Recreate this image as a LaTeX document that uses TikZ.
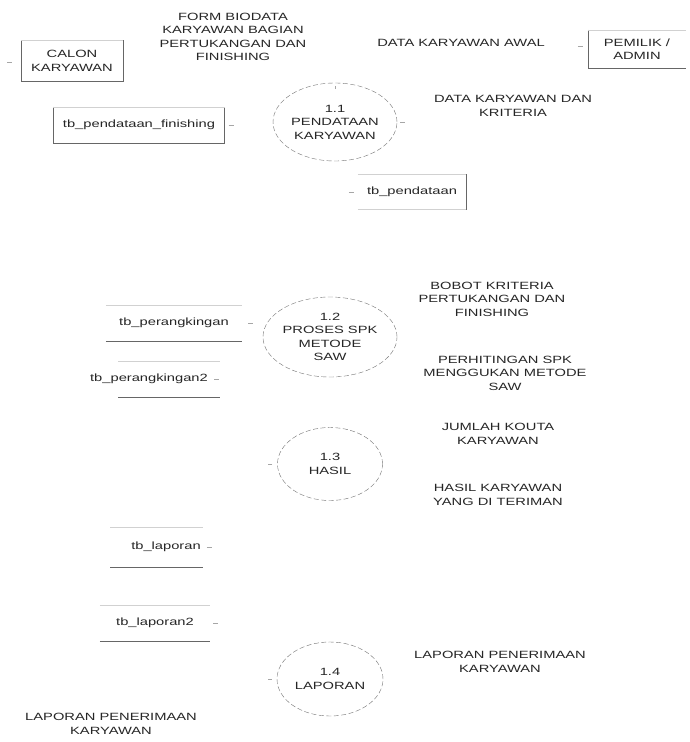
\documentclass[tikz,border=0pt]{standalone}
\usepackage{fontspec}
\setmainfont{Liberation Sans}[FakeStretch=1.4]
\usetikzlibrary{shapes.geometric}
\begin{document}
\begin{tikzpicture}[x=1pt,y=-1pt,font=\fontsize{10.5}{13.5}\selectfont,
  lbl/.style={align=center,text=black!85,inner sep=0pt},
  proc/.style={ellipse,draw=black!55,dash pattern=on 5pt off 2.5pt,align=center,inner sep=0pt,text=black!85},
  ent/.style={align=center,inner sep=0pt,text=black!85},
  edge/.style={draw=black!60,line width=0.6pt},
  faint/.style={draw=black!18,line width=0.6pt},
  tick/.style={draw=black!35,line width=0.6pt}]
\useasboundingbox (0,0) rectangle (690,742);
\fill[white] (0,0) rectangle (690,742);

% external entities
\node[ent,minimum width=102pt,minimum height=41pt] (calon) at (72,61) {CALON\\KARYAWAN};
\draw[edge] (calon.north west) -- (calon.south west) -- (calon.south east) -- (calon.north east);
\draw[faint] (calon.north west) -- (calon.north east);

\node[ent,minimum width=98pt,minimum height=38pt] (admin) at (637,49) {PEMILIK /\\ADMIN};
\draw[edge] (admin.north west) -- (admin.south west) -- (admin.south east);
\draw[faint] (admin.north west) -- (admin.north east);

% data stores with boxes
\node[ent,minimum width=171pt,minimum height=36pt] (dsfin) at (139,125) {tb\_pendataan\_finishing};
\draw[edge] (dsfin.north west) -- (dsfin.south west) -- (dsfin.south east) -- (dsfin.north east);
\draw[faint] (dsfin.north west) -- (dsfin.north east);

\node[ent,minimum width=108pt,minimum height=35pt] (dspen) at (412,192) {tb\_pendataan};
\draw[edge] (dspen.north east) -- (dspen.south east);
\draw[faint] (dspen.north west) -- (dspen.north east);
\draw[faint] (dspen.south west) -- (dspen.south east);

% processes
\node[proc,minimum width=105pt,minimum height=78pt] (p1) at (335,122) {1.1\\PENDATAAN\\KARYAWAN};
\node[proc,minimum width=104pt,minimum height=80pt] (p2) at (330,337) {1.2\\PROSES SPK\\METODE\\SAW};
\node[proc,minimum width=105pt,minimum height=73pt] (p3) at (330,464) {1.3\\HASIL};
\node[proc,minimum width=106pt,minimum height=74pt] (p4) at (330,679) {1.4\\LAPORAN};

% open data stores
\node[ent,minimum width=136pt,minimum height=36pt] (rank1) at (174,323) {tb\_perangkingan};
\draw[edge] (rank1.south west) -- (rank1.south east);
\draw[faint] (rank1.north west) -- (rank1.north east);

\node[ent,minimum height=36pt] (rank2) at (149,379) {tb\_perangkingan2};
\draw[edge] ([xshift=-31pt]rank2.south) -- ([xshift=71pt]rank2.south);
\draw[faint] ([xshift=-31pt]rank2.north) -- ([xshift=71pt]rank2.north);

\node[ent,minimum height=40pt] (lap1) at (166,547) {tb\_laporan};
\draw[edge] ([xshift=-56pt]lap1.south) -- ([xshift=37pt]lap1.south);
\draw[faint] ([xshift=-56pt]lap1.north) -- ([xshift=37pt]lap1.north);

\node[ent,minimum width=110pt,minimum height=36pt] (lap2) at (155,623) {tb\_laporan2};
\draw[edge] (lap2.south west) -- (lap2.south east);
\draw[faint] (lap2.north west) -- (lap2.north east);

% flow labels
\node[lbl] (lform) at (233,37) {FORM BIODATA\\KARYAWAN BAGIAN\\PERTUKANGAN DAN\\FINISHING};
\node[lbl] (lawal) at (461,43) {DATA KARYAWAN AWAL};
\node[lbl] (ldkk) at (513,106) {DATA KARYAWAN DAN\\KRITERIA};
\node[lbl] (lbobot) at (492,299) {BOBOT KRITERIA\\PERTUKANGAN DAN\\FINISHING};
\node[lbl] (lhit) at (505,373) {PERHITINGAN SPK\\MENGGUKAN METODE\\SAW};
\node[lbl] (ljml) at (498,434) {JUMLAH KOUTA\\KARYAWAN};
\node[lbl] (lhasil) at (498,495) {HASIL KARYAWAN\\YANG DI TERIMAN};
\node[lbl] (llapR) at (500,662) {LAPORAN PENERIMAAN\\KARYAWAN};
\node[lbl] (llapL) at (111,724) {LAPORAN PENERIMAAN\\KARYAWAN};

% faint arrow-tip remnants
\coordinate (t1) at (7,62); \coordinate (t1b) at (12,62);
\draw[tick] (t1) -- (t1b);
\draw[tick] ([xshift=4pt]dsfin.east) -- ([xshift=9pt]dsfin.east);
\draw[tick] ([xshift=-9pt]dspen.west) -- ([xshift=-4pt]dspen.west);
\draw[tick] ([xshift=-10pt,yshift=3pt]admin.west) -- ([xshift=-5pt,yshift=3pt]admin.west);
\draw[tick] ([xshift=3pt]p1.east) -- ([xshift=8pt]p1.east);
\draw[tick] ([yshift=-3pt]p1.north) -- ([yshift=-6pt]p1.north);
\draw[tick] ([xshift=6pt]rank1.east) -- ([xshift=11pt]rank1.east);
\draw[tick] ([xshift=6pt]rank2.east) -- ([xshift=11pt]rank2.east);
\draw[tick] ([xshift=6pt]lap1.east) -- ([xshift=11pt]lap1.east);
\draw[tick] ([xshift=3pt]lap2.east) -- ([xshift=8pt]lap2.east);
\draw[tick] ([xshift=-5pt]p3.west) -- ([xshift=-9pt]p3.west);
\draw[tick] ([xshift=-5pt]p4.west) -- ([xshift=-9pt]p4.west);
\end{tikzpicture}
\end{document}
